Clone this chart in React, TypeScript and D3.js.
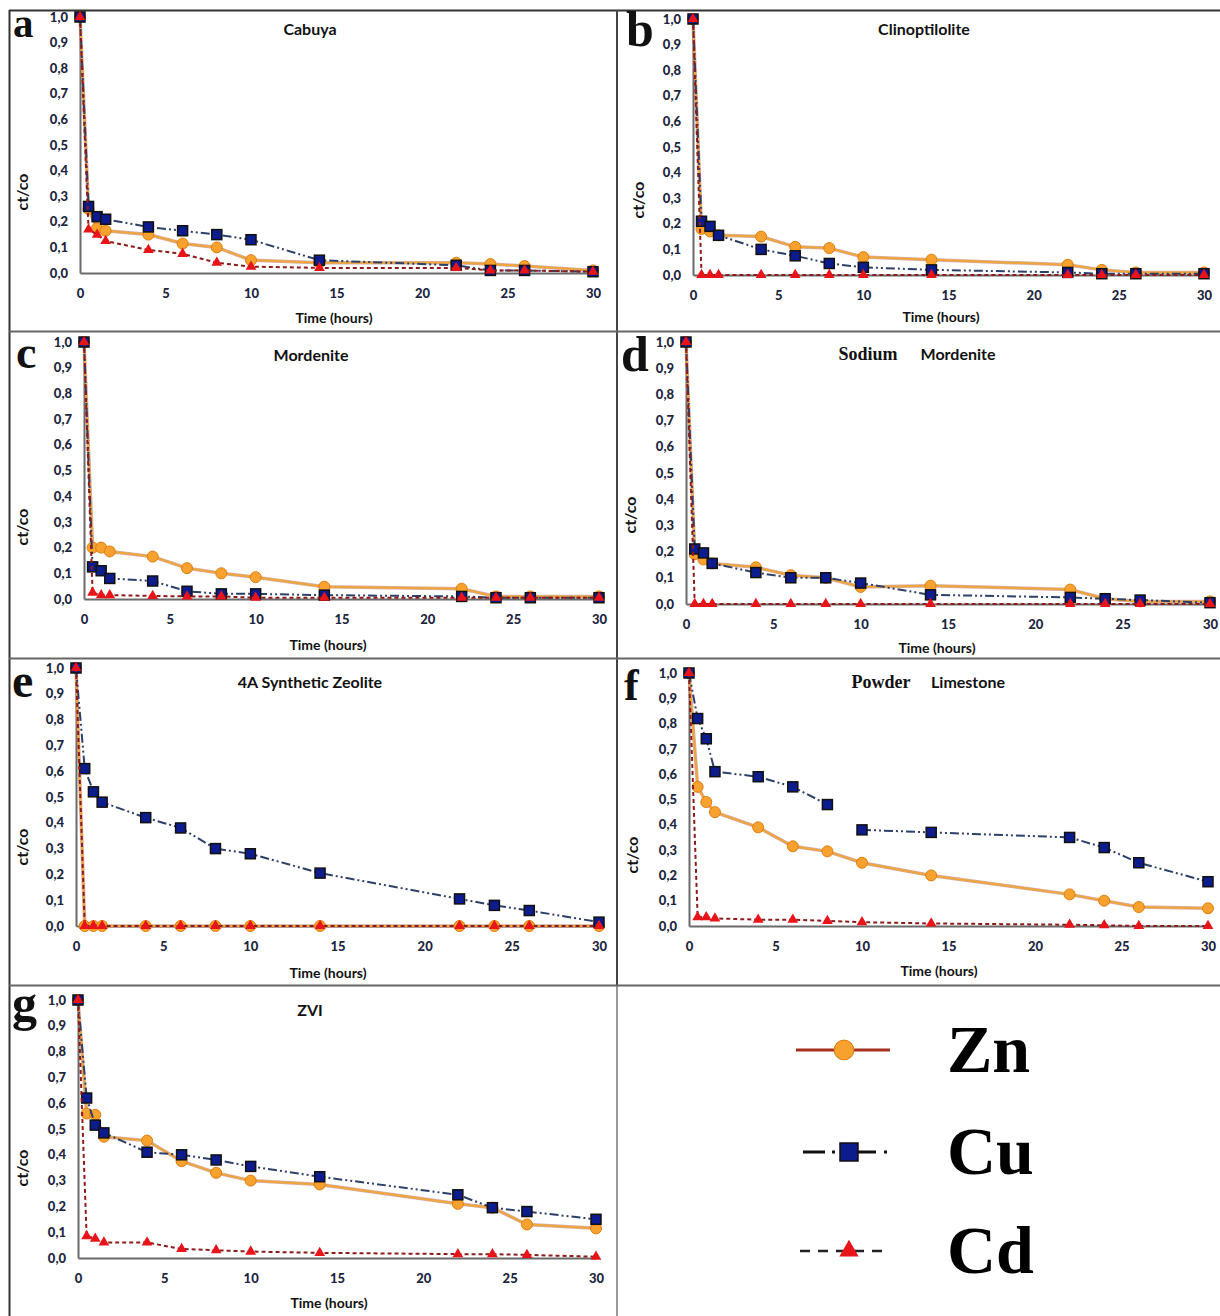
import React, { useRef, useEffect } from "react";
import * as d3 from "d3";

// sampling times (hours), shared by every panel
const TIME_H = [0, 0.5, 1, 1.5, 4, 6, 8, 10, 14, 22, 24, 26, 30];
const X_TICKS = [0, 5, 10, 15, 20, 25, 30];
const Y_TICKS = [0, 0.1, 0.2, 0.3, 0.4, 0.5, 0.6, 0.7, 0.8, 0.9, 1.0];

// a - Cabuya
const cabuyaZn = [1.0, 0.25, 0.175, 0.165, 0.15, 0.115, 0.1, 0.05, 0.04, 0.04, 0.035, 0.027, 0.01];
const cabuyaCu = [1.0, 0.26, 0.22, 0.21, 0.18, 0.165, 0.15, 0.13, 0.05, 0.03, 0.01, 0.01, 0.005];
const cabuyaCd = [1.0, 0.17, 0.15, 0.125, 0.09, 0.075, 0.04, 0.025, 0.02, 0.02, 0.01, 0.01, 0.005];

// b - Clinoptilolite
const clinoZn = [1.0, 0.18, 0.17, 0.155, 0.15, 0.11, 0.105, 0.07, 0.06, 0.04, 0.02, 0.01, 0.01];
const clinoCu = [1.0, 0.21, 0.19, 0.155, 0.1, 0.075, 0.045, 0.03, 0.02, 0.01, 0.005, 0.005, 0.005];
const clinoCd = [1.0, 0, 0, 0, 0, 0, 0, 0, 0, 0, 0, 0, 0];

// c - Mordenite
const mordZn = [1.0, 0.2, 0.2, 0.185, 0.165, 0.12, 0.1, 0.085, 0.048, 0.04, 0.01, 0.01, 0.01];
const mordCu = [1.0, 0.125, 0.11, 0.08, 0.07, 0.03, 0.02, 0.02, 0.015, 0.01, 0.005, 0.005, 0.005];
const mordCd = [1.0, 0.025, 0.015, 0.015, 0.012, 0.01, 0.01, 0.005, 0.005, 0.005, 0.005, 0.005, 0.005];

// d - Sodium Mordenite
const naMordZn = [1.0, 0.19, 0.17, 0.155, 0.14, 0.11, 0.1, 0.065, 0.07, 0.055, 0.02, 0.01, 0.01];
const naMordCu = [1.0, 0.21, 0.195, 0.155, 0.12, 0.1, 0.1, 0.08, 0.035, 0.025, 0.02, 0.015, 0.005];
const naMordCd = [1.0, 0, 0, 0, 0, 0, 0, 0, 0, 0, 0, 0, 0];

// e - 4A Synthetic Zeolite
const zeoliteZn = [1.0, 0, 0, 0, 0, 0, 0, 0, 0, 0, 0, 0, 0];
const zeoliteCu = [1.0, 0.61, 0.52, 0.48, 0.42, 0.38, 0.3, 0.28, 0.205, 0.105, 0.08, 0.06, 0.015];
const zeoliteCd = [1.0, 0, 0, 0, 0, 0, 0, 0, 0, 0, 0, 0, 0];

// f - Powder Limestone (Cu line is broken between 8 h and 10 h)
const limeZn = [1.0, 0.55, 0.49, 0.45, 0.39, 0.315, 0.295, 0.25, 0.2, 0.125, 0.1, 0.075, 0.07];
const limeCu = [1.0, 0.82, 0.74, 0.61, 0.59, 0.55, 0.48, 0.38, 0.37, 0.35, 0.31, 0.25, 0.175];
const limeCd = [1.0, 0.035, 0.035, 0.03, 0.025, 0.025, 0.02, 0.015, 0.01, 0.005, 0.003, 0, 0];
const limeCuGapAfter = [8];

// g - ZVI
const zviZn = [1.0, 0.56, 0.555, 0.47, 0.455, 0.375, 0.33, 0.3, 0.285, 0.21, 0.195, 0.13, 0.115];
const zviCu = [1.0, 0.62, 0.515, 0.485, 0.41, 0.4, 0.38, 0.355, 0.315, 0.245, 0.195, 0.18, 0.15];
const zviCd = [1.0, 0.085, 0.075, 0.06, 0.06, 0.035, 0.03, 0.025, 0.02, 0.015, 0.015, 0.012, 0.005];

const METALS = ["Zn", "Cu", "Cd"];

const SANS = "Lato, 'Open Sans', 'Liberation Sans', sans-serif";
const SERIF = "'Liberation Serif', 'DejaVu Serif', serif";

const panels = [
  { letter: "a", lx: 13, ly: 37, ls: 41, title: [{ t: "Cabuya", x: 310, f: SANS }], ty: 35,
    left: 80, right: 593, top: 17, bottom: 273, ylx: 24, yly: 192, tlx: 334, tly: 323,
    series: [cabuyaZn, cabuyaCu, cabuyaCd] },
  { letter: "b", lx: 626, ly: 46, ls: 50, title: [{ t: "Clinoptilolite", x: 924, f: SANS }], ty: 35,
    left: 693, right: 1204, top: 19, bottom: 275, ylx: 640, yly: 200, tlx: 941, tly: 322,
    series: [clinoZn, clinoCu, clinoCd] },
  { letter: "c", lx: 16, ly: 368, ls: 46, title: [{ t: "Mordenite", x: 311, f: SANS }], ty: 361,
    left: 84, right: 599, top: 342, bottom: 599, ylx: 24, yly: 527, tlx: 328, tly: 650,
    series: [mordZn, mordCu, mordCd] },
  { letter: "d", lx: 621, ly: 371, ls: 50, title: [{ t: "Sodium", x: 868, f: SERIF }, { t: "Mordenite", x: 958, f: SANS }], ty: 360,
    left: 686, right: 1210, top: 342, bottom: 604, ylx: 632, yly: 515, tlx: 937, tly: 653,
    series: [naMordZn, naMordCu, naMordCd] },
  { letter: "e", lx: 12, ly: 697, ls: 48, title: [{ t: "4A Synthetic Zeolite", x: 310, f: SANS }], ty: 688,
    left: 76, right: 599, top: 668, bottom: 926, ylx: 24, yly: 847, tlx: 328, tly: 978,
    series: [zeoliteZn, zeoliteCu, zeoliteCd] },
  { letter: "f", lx: 624, ly: 700, ls: 44, title: [{ t: "Powder", x: 881, f: SERIF }, { t: "Limestone", x: 968, f: SANS }], ty: 688,
    left: 689, right: 1208, top: 673, bottom: 926, ylx: 634, yly: 855, tlx: 939, tly: 976,
    series: [limeZn, limeCu, limeCd], cuGap: limeCuGapAfter },
  { letter: "g", lx: 12, ly: 1020, ls: 50, title: [{ t: "ZVI", x: 310, f: SANS }], ty: 1016,
    left: 78, right: 596, top: 1000, bottom: 1258, ylx: 24, yly: 1168, tlx: 329, tly: 1308,
    series: [zviZn, zviCu, zviCd] },
];

const STYLE = {
  Zn: { stroke: "#EFA53A", under: "#B9786A", width: 2, dash: null },
  Cu: { stroke: "#2D4068", width: 2, dash: "9 3 2 3 2 3" },
  Cd: { stroke: "#8E1B1B", width: 2, dash: "4 3" },
};

function drawMarker(g, metal, cx, cy, scale = 1) {
  if (metal === "Zn") {
    g.append("circle").attr("cx", cx).attr("cy", cy).attr("r", 5.5 * scale)
      .attr("fill", "#F7A12E").attr("stroke", "#E07E10").attr("stroke-width", 1);
  } else if (metal === "Cu") {
    const s = 10 * scale;
    g.append("rect").attr("x", cx - s / 2).attr("y", cy - s / 2).attr("width", s).attr("height", s)
      .attr("fill", "#0C1C8C").attr("stroke", "#111").attr("stroke-width", 1.5);
  } else {
    g.append("path").attr("transform", `translate(${cx},${cy})`)
      .attr("d", d3.symbol(d3.symbolTriangle, 50 * scale * scale)())
      .attr("fill", "#E8141A");
  }
}

const App = () => {
  const svgRef = useRef(null);

  useEffect(() => {
    const svg = d3.select(svgRef.current);
    svg.selectAll("*").remove();

    // frame lines
    const frame = svg.append("g").attr("fill", "none");
    frame.append("line").attr("x1", 9).attr("x2", 1220).attr("y1", 10.5).attr("y2", 10.5).attr("stroke", "#333").attr("stroke-width", 2);
    frame.append("line").attr("x1", 9.5).attr("x2", 9.5).attr("y1", 10).attr("y2", 1316).attr("stroke", "#333").attr("stroke-width", 2);
    frame.append("line").attr("x1", 617).attr("x2", 617).attr("y1", 10).attr("y2", 985).attr("stroke", "#444").attr("stroke-width", 2);
    frame.append("line").attr("x1", 617).attr("x2", 617).attr("y1", 985).attr("y2", 1316).attr("stroke", "#999").attr("stroke-width", 2);
    [331.5, 658.5, 985.5].forEach((yy) => {
      frame.append("line").attr("x1", 9).attr("x2", 1220).attr("y1", yy).attr("y2", yy).attr("stroke", "#666").attr("stroke-width", 2);
    });

    panels.forEach((p) => {
      const g = svg.append("g");
      const x = d3.scaleLinear().domain([0, 30]).range([p.left, p.right]);
      const y = d3.scaleLinear().domain([0, 1]).range([p.bottom, p.top]);

      // axes
      const yAxis = d3.axisLeft(y).tickValues(Y_TICKS).tickSize(0).tickPadding(12)
        .tickFormat((d) => d3.format(".1f")(d).replace(".", ","));
      const ya = g.append("g").attr("transform", `translate(${p.left},0)`).call(yAxis);
      const xAxis = d3.axisBottom(x).tickValues(X_TICKS).tickSize(0).tickPadding(16);
      const xa = g.append("g").attr("transform", `translate(0,${p.bottom})`).call(xAxis);
      [ya, xa].forEach((a) => {
        a.select(".domain").attr("stroke", "#6a6a6a").attr("stroke-width", 2);
        a.selectAll("text").attr("font-family", SANS).attr("font-weight", 900)
          .attr("font-size", 13).attr("fill", "#1d2640");
      });

      // titles & labels
      p.title.forEach((t) => {
        g.append("text").attr("x", t.x).attr("y", p.ty).attr("text-anchor", "middle")
          .attr("font-family", t.f).attr("font-weight", 700)
          .attr("font-size", t.f === SERIF ? 18 : 16).attr("fill", "#111").text(t.t);
      });
      g.append("text").attr("x", p.tlx).attr("y", p.tly).attr("text-anchor", "middle")
        .attr("font-family", SANS).attr("font-weight", 700).attr("font-size", 14)
        .attr("fill", "#111").text("Time (hours)");
      g.append("text").attr("transform", `translate(${p.ylx},${p.yly}) rotate(-90)`)
        .attr("text-anchor", "middle").attr("dominant-baseline", "middle")
        .attr("font-family", SANS).attr("font-weight", 700).attr("font-size", 16)
        .attr("fill", "#111").text("ct/co");
      g.append("text").attr("x", p.lx).attr("y", p.ly)
        .attr("font-family", SERIF).attr("font-weight", 700).attr("font-size", p.ls)
        .attr("fill", "#111").text(p.letter);

      // series
      p.series.forEach((vals, i) => {
        const metal = METALS[i];
        const st = STYLE[metal];
        const pts = TIME_H.map((t, k) => [t, vals[k]]);
        const gaps = metal === "Cu" && p.cuGap ? p.cuGap : [];
        // split into segments at gaps
        const segs = [];
        let cur = [];
        pts.forEach((pt) => {
          cur.push(pt);
          if (gaps.includes(pt[0])) { segs.push(cur); cur = []; }
        });
        if (cur.length) segs.push(cur);
        const line = d3.line().x((d) => x(d[0])).y((d) => y(d[1]));
        segs.forEach((s) => {
          if (st.under) {
            g.append("path").attr("d", line(s)).attr("fill", "none")
              .attr("stroke", st.under).attr("stroke-width", 3.5).attr("opacity", 0.6);
          }
          g.append("path").attr("d", line(s)).attr("fill", "none")
            .attr("stroke", st.stroke).attr("stroke-width", st.width)
            .attr("stroke-dasharray", st.dash);
        });
        pts.forEach((pt) => drawMarker(g, metal, x(pt[0]), y(pt[1])));
      });
    });

    // legend
    const lg = svg.append("g");
    const legendRows = [
      { m: "Zn", y: 1050, x1: 796, x2: 890, cx: 844, stroke: "#A5301F", dash: null, w: 3 },
      { m: "Cu", y: 1152, x1: 803, x2: 887, cx: 849, stroke: "#111", dash: "22 7 3 5 36 8 3 100", w: 3 },
      { m: "Cd", y: 1251, x1: 800, x2: 888, cx: 849, stroke: "#222", dash: "10 8", w: 2.5 },
    ];
    legendRows.forEach((r) => {
      lg.append("line").attr("x1", r.x1).attr("x2", r.x2).attr("y1", r.y).attr("y2", r.y)
        .attr("stroke", r.stroke).attr("stroke-width", r.w).attr("stroke-dasharray", r.dash);
      drawMarker(lg, r.m, r.cx, r.y, 1.8);
      lg.append("text").attr("x", 947).attr("y", r.y + 22)
        .attr("font-family", SERIF).attr("font-weight", 700).attr("font-size", 68)
        .attr("fill", "#000").text(r.m);
    });
  }, []);

  return (
    <svg ref={svgRef} width="1220" height="1316"
      style={{ position: "absolute", left: 0, top: 0, background: "#fff" }} />
  );
};

export default App;
